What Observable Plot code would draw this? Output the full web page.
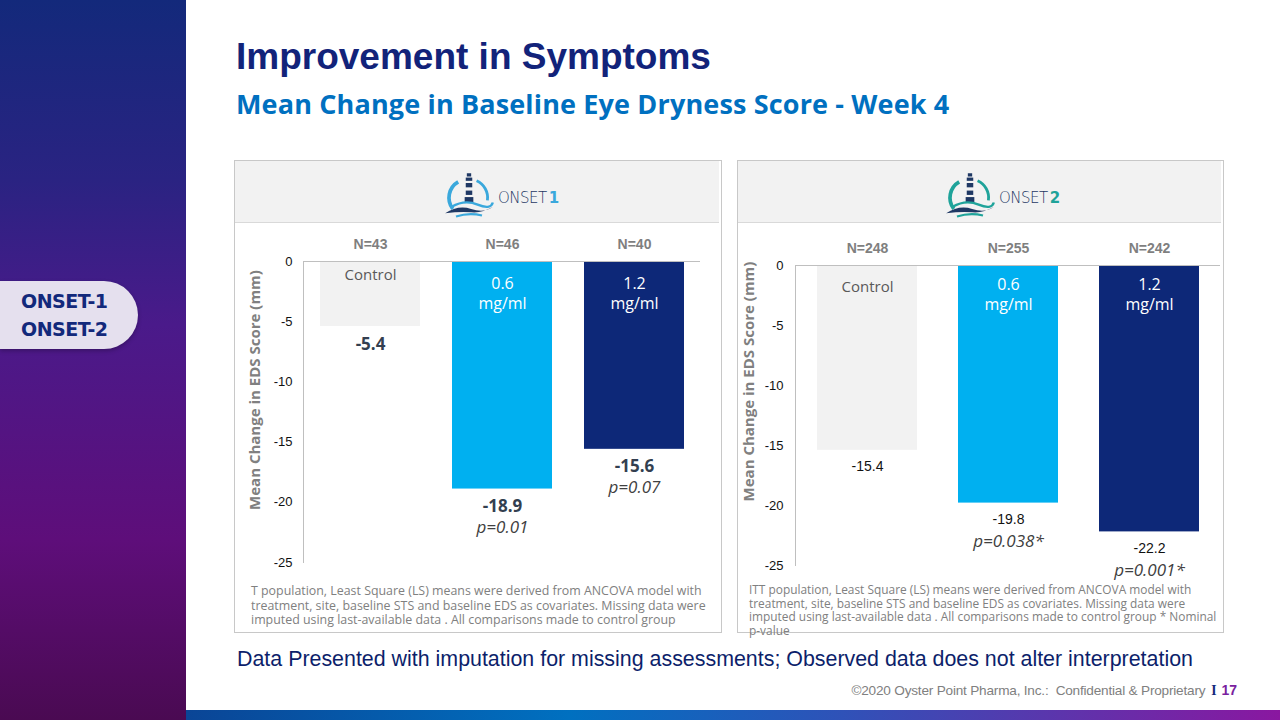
<!DOCTYPE html>
<html>
<head>
<meta charset="utf-8">
<script src="https://cdn.jsdelivr.net/npm/d3@7"></script>
<script src="https://cdn.jsdelivr.net/npm/@observablehq/plot@0.6"></script>
<style>
  html, body { margin: 0; padding: 0; background: #fff; }
  body { width: 1280px; height: 720px; position: relative; overflow: hidden; font-family: "Liberation Sans", Arial, sans-serif; }
  .abs { position: absolute; }
  #sidebar { left: 0; top: 0; width: 186px; height: 720px;
    background: linear-gradient(to bottom, #13297b 0%, #2a2382 25%, #4a1a8a 45%, #5e0e7a 75%, #4a0a52 100%); }
  #tab { left: 0; top: 281px; width: 138px; height: 68px; background: #e5e0ee; border-radius: 0 34px 34px 0;
    box-shadow: 0 2px 4px rgba(0,0,0,0.25); }
  #tab div { position: absolute; left: 21px; font-family: "DejaVu Sans", sans-serif; font-weight: bold; font-size: 19px; color: #13297b; letter-spacing: -0.5px; }
  #bottombar { left: 186px; top: 710px; width: 1094px; height: 10px;
    background: linear-gradient(to right, #0a4596 0%, #0070c0 35%, #2f52b8 60%, #8a17a0 100%); }
  #title { left: 236px; top: 36px; font-family: "Liberation Sans", Arial, sans-serif; font-weight: bold; font-size: 37px; color: #12237a; white-space: nowrap; }
  #subtitle { left: 236px; top: 85px; font-family: "Open Sans", sans-serif; font-weight: bold; font-size: 27px; color: #0070c0; white-space: nowrap; letter-spacing: 0.15px; }
  .panel { top: 160px; height: 471px; border: 1px solid #c8c8c8; }
  .header { position: absolute; left: 0; top: 0; right: 2px; height: 61px; background: #f2f2f2; border-bottom: 1px solid #d9d9d9; }
  .logo { position: absolute; top: 10px; display: flex; align-items: center; }
  .logo span.t { font-family: "DejaVu Sans", sans-serif; font-size: 15px; color: #1f3864; margin-left: 3px; letter-spacing: -0.5px; font-weight: 300; margin-top: 4px; }
  .logo b { font-family: "DejaVu Sans", sans-serif; font-size: 15px; margin-left: 2px; margin-top: 4px; }
  .chart { position: absolute; left: -1px; top: 61px; }
  .foot { position: absolute; font-family: "Open Sans", sans-serif; font-size: 12.4px; color: #808080; line-height: 14.5px; white-space: nowrap; }
  #caption { left: 237px; top: 647px; font-family: "Liberation Sans", Arial, sans-serif; font-size: 21.4px; color: #0d1f6b; white-space: nowrap; }
  #footer { right: 43px; top: 682px; font-family: "Liberation Sans", Arial, sans-serif; font-size: 13.6px; color: #808080; white-space: nowrap; letter-spacing: -0.2px; }
  #footer .sep { font-family: "Liberation Serif", serif; font-weight: bold; color: #13297b; margin: 0 5px 0 6px; }
  #footer .pg { font-weight: bold; color: #7a1fa0; font-size: 14px; letter-spacing: 0; }
</style>
</head>
<body>
<div id="sidebar" class="abs"></div>
<div id="tab" class="abs"><div style="top:9px">ONSET-1</div><div style="top:37px">ONSET-2</div></div>
<div id="title" class="abs">Improvement in Symptoms</div>
<div id="subtitle" class="abs">Mean Change in Baseline Eye Dryness Score - Week 4</div>

<div id="panel1" class="abs panel" style="left:234px; width:486px;">
  <div class="header">
    <div class="logo" style="left:208px;" id="logo1"></div>
  </div>
  <div class="chart" id="chart1"></div>
  <div class="foot" style="left:16px; top:423px;">T population, Least Square (LS) means were derived from ANCOVA model with<br>treatment, site, baseline STS and baseline EDS as covariates. Missing data were<br>imputed using last-available data . All comparisons made to control group</div>
</div>
<div id="panel2" class="abs panel" style="left:737px; width:485px;">
  <div class="header">
    <div class="logo" style="left:206px;" id="logo2"></div>
  </div>
  <div class="chart" id="chart2"></div>
  <div class="foot" style="left:11px; top:422px; font-size:11.9px; line-height:13.6px;">ITT population, Least Square (LS) means were derived from ANCOVA model with<br>treatment, site, baseline STS and baseline EDS as covariates. Missing data were<br>imputed using last-available data . All comparisons made to control group * Nominal<br>p-value</div>
</div>

<div id="caption" class="abs">Data Presented with imputation for missing assessments; Observed data does not alter interpretation</div>
<div id="footer" class="abs">©2020 Oyster Point Pharma, Inc.:&nbsp; Confidential &amp; Proprietary<span class="sep">I</span><span class="pg">17</span></div>
<div id="bottombar" class="abs"></div>

<script>
// ---------- data ----------
const groups = ["Control", "0.6 mg/ml", "1.2 mg/ml"];
const barLabels = ["Control", "0.6\nmg/ml", "1.2\nmg/ml"];
const onset1N = ["N=43", "N=46", "N=40"];
const onset1Values = [-5.4, -18.9, -15.6];
const onset1ValueLabels = ["-5.4", "-18.9", "-15.6"];
const onset1P = ["", "p=0.01", "p=0.07"];
const onset2N = ["N=248", "N=255", "N=242"];
const onset2Values = [-15.4, -19.8, -22.2];
const onset2ValueLabels = ["-15.4", "-19.8", "-22.2"];
const onset2P = ["", "p=0.038*", "p=0.001*"];
const yTicks = [0, -5, -10, -15, -20, -25];
const yLabel = "Mean Change in EDS Score (mm)";

// ---------- styles ----------
const barColors = ["#f2f2f2", "#00b0f0", "#0d2878"];

function logo(el, accent, num) {
  el.innerHTML = `
  <svg width="52" height="50" viewBox="0 0 48 46">
    <path d="M9 35 A17 17 0 0 1 14 10" fill="none" stroke="${accent}" stroke-width="3.4"/>
    <path d="M31 9 A17 17 0 0 1 41 27" fill="none" stroke="${accent}" stroke-width="2.6"/>
    <rect x="22" y="2" width="4" height="3" fill="#1f3864"/>
    <rect x="21" y="6" width="6" height="3" fill="#1f3864"/>
    <rect x="21" y="11" width="6" height="4" fill="#1f3864"/>
    <rect x="21" y="18" width="6" height="4" fill="#1f3864"/>
    <rect x="20" y="24" width="8" height="5" fill="#1f3864"/>
    <path d="M2 39 Q14 31 26 35 T46 33 Q36 39 26 38 T2 39Z" fill="#1f3864"/>
    <path d="M8 33 Q20 26 32 31 T46 29" fill="none" stroke="${accent}" stroke-width="2.2"/>
    <path d="M12 42 Q24 38 36 41" fill="none" stroke="${accent}" stroke-width="2"/>
  </svg>
  <span class="t">ONSET</span><b style="color:${accent}">${num}</b>`;
}
logo(document.getElementById("logo1"), "#3aa8dc", "1");
logo(document.getElementById("logo2"), "#1fa39a", "2");

function makeChart(cfg) {
  const rows = groups.map((g, i) => ({
    group: g, label: barLabels[i], n: cfg.n[i], value: cfg.values[i], vlabel: cfg.vlabels[i], p: cfg.p[i]
  }));
  const inside = (i) => i === 0;
  return Plot.plot({
    width: cfg.width,
    height: cfg.height,
    marginLeft: cfg.marginLeft,
    marginRight: cfg.marginRight,
    marginTop: cfg.marginTop,
    marginBottom: cfg.marginBottom,
    style: { background: "transparent", overflow: "visible" },
    x: { domain: groups, paddingInner: cfg.paddingInner, paddingOuter: cfg.paddingOuter, axis: null },
    y: { domain: [-25, 0], axis: null },
    color: { domain: groups, range: barColors },
    marks: [
      Plot.barY(rows, { x: "group", y: "value", fill: "group" }),
      Plot.ruleY([0], { stroke: "#bfbfbf", strokeWidth: 1 }),
      Plot.frame({ anchor: "left", stroke: "#bfbfbf", strokeWidth: 1 }),
      Plot.axisY({ ticks: yTicks, tickSize: 0, tickPadding: cfg.tickPadding, tickFormat: (d) => String(d),
        fontSize: 13, fontFamily: "Liberation Sans, Arial, sans-serif", fill: "#111", label: null }),
      Plot.text([yLabel], { frameAnchor: "left", rotate: -90, dx: -cfg.labelOffset, dy: cfg.labelDy,
        fontFamily: "Open Sans, sans-serif", fontWeight: "bold", fontSize: 15, fill: "#808080", textAnchor: "middle" }),
      Plot.text(rows, { x: "group", y: () => 0, text: "n", dy: -17, fontFamily: "Liberation Sans, Arial, sans-serif",
        fontWeight: "bold", fontSize: 14, fill: "#7f7f7f" }),
      Plot.text(rows.filter((d, i) => inside(i)), { x: "group", y: () => 0, text: "label", lineAnchor: "top", dy: cfg.controlDy,
        fontFamily: "Open Sans, sans-serif", fontSize: 15, fill: "#595959" }),
      Plot.text(rows.filter((d, i) => !inside(i)), { x: "group", y: () => 0, text: "label", lineAnchor: "top", dy: cfg.doseDy,
        lineHeight: 1.25, fontFamily: "Open Sans, sans-serif", fontSize: 16, fill: "#ffffff" }),
      Plot.text(rows, { x: "group", y: "value", text: "vlabel", lineAnchor: "top", dy: 11,
        fontFamily: cfg.valueFont, fontWeight: cfg.valueWeight, fontSize: cfg.valueSize, fill: cfg.valueColor }),
      Plot.text(rows, { x: "group", y: "value", text: "p", lineAnchor: "top", dy: cfg.pDy,
        fontFamily: "Open Sans, sans-serif", fontStyle: "italic", fontSize: 17, fill: "#404040" })
    ]
  });
}

document.getElementById("chart1").appendChild(makeChart({
  n: onset1N, values: onset1Values, vlabels: onset1ValueLabels, p: onset1P,
  width: 486, height: 360, marginLeft: 69, marginRight: 20, marginTop: 39, marginBottom: 20,
  paddingInner: 0.245, paddingOuter: 0.12, tickPadding: 11, labelOffset: 48, labelDy: -22,
  controlDy: 8, doseDy: 13, pDy: 32,
  valueFont: "Open Sans, sans-serif", valueWeight: "bold", valueSize: 17, valueColor: "#333f50"
}));

document.getElementById("chart2").appendChild(makeChart({
  n: onset2N, values: onset2Values, vlabels: onset2ValueLabels, p: onset2P,
  width: 485, height: 363, marginLeft: 58, marginRight: 2, marginTop: 43, marginBottom: 20,
  paddingInner: 0.293, paddingOuter: 0.148, tickPadding: 12, labelOffset: 46, labelDy: -34,
  controlDy: 16, doseDy: 10, pDy: 32,
  valueFont: "Liberation Sans, Arial, sans-serif", valueWeight: "normal", valueSize: 14, valueColor: "#111111"
}));
</script>
</body>
</html>
